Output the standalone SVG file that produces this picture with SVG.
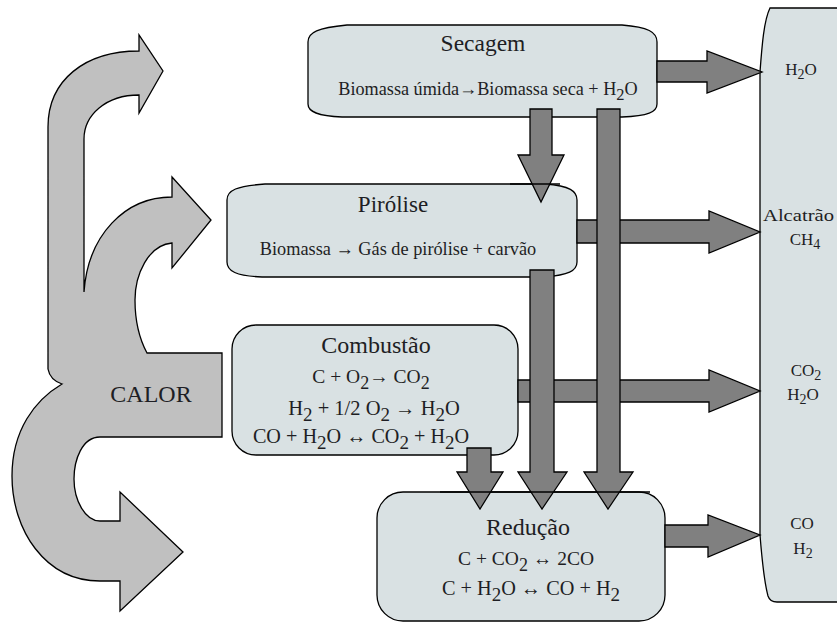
<svg xmlns="http://www.w3.org/2000/svg" width="837" height="624" viewBox="0 0 837 624">
<style>
.box{fill:#d9e1e3;stroke:#000;stroke-width:1.3}
.edge{fill:none;stroke:#000;stroke-width:1.3}
.arr{fill:#808080;stroke:#000;stroke-width:1.3}
.heat{fill:#c0c0c0;stroke:#000;stroke-width:1.3}
text{font-family:'Liberation Serif','Times New Roman',serif;fill:#1e1e24}
.m{text-anchor:middle}
</style>
<rect width="837" height="624" fill="#fff"/>

<g id="calor">
<path class="heat" d="M163,71 L139,113 L139,95 C106,95 84,115 84,139 L84,292 C88,235 125,197 172,197 L172,177 L211,220 L172,268 L172,243 C148,245 135,275 135,300 C135,325 140,340 147,353 L222,353 L222,437 L100,437 C82,437 74,460 74,479 C74,500 85,521 100,521 L120,521 L120,492 L183,552 L120,611 L120,581 L100,581 C45,581 12,530 12,476 C12,430 35,400 62,384 Q50,380 48,369 L48,127 C48,80 85,51 139,51 L139,35 Z"/>
<text class="m" x="151" y="402" font-size="24">CALOR</text>
</g>

<g id="produtos" font-size="17">
<path class="box" d="M770,8 C764,20 762,45 760,72 L760,535 C762,560 765,585 768,596 Q770,602 777,602 L842,602 L842,8 Z"/>
<text class="m" x="801" y="75">H<tspan font-size="14" dy="4">2</tspan><tspan dy="-4">O</tspan></text>
<text x="763" y="221" font-size="17" textLength="71" lengthAdjust="spacingAndGlyphs">Alcatrão</text>
<text class="m" x="805" y="245">CH<tspan font-size="14" dy="4">4</tspan></text>
<text class="m" x="806" y="376">CO<tspan font-size="14" dy="4">2</tspan></text>
<text class="m" x="803" y="400">H<tspan font-size="14" dy="4">2</tspan><tspan dy="-4">O</tspan></text>
<text class="m" x="802" y="529">CO</text>
<text class="m" x="803" y="554">H<tspan font-size="14" dy="4">2</tspan></text>
</g>

<g id="secagem">
<path class="box" d="M308,42 C308,32 318,28 347,25 L622,25 C648,27 657,32 657,42 L657,104 C657,112 648,116 622,117 L342,117 C318,116 308,112 308,104 Z"/>
<text class="m" font-size="23.5" x="483" y="51">Secagem</text>
<text class="m" font-size="18.2" x="488" y="95">Biomassa úmida→Biomassa seca + H<tspan font-size="16.5" dy="5">2</tspan><tspan dy="-5">O</tspan></text>
</g>

<g id="pirolise">
<path class="box" d="M227,200 C227,190 237,186 265,184 L545,184 C570,186 577,191 577,200 L577,262 C577,271 568,275 545,277 L262,277 C236,276 227,271 227,262 Z"/>
<text class="m" font-size="23" x="393" y="212">Pirólise</text>
<text class="m" font-size="18.3" x="398" y="255">Biomassa  →  Gás de pirólise + carvão</text>
</g>

<g id="combustao">
<rect class="box" x="232" y="325" width="286" height="130" rx="24"/>
<text class="m" font-size="24" x="376" y="353">Combustão</text>
<text class="m" font-size="19.5" x="371" y="383">C + O<tspan font-size="18" dy="6">2</tspan><tspan dy="-6">→ CO</tspan><tspan font-size="18" dy="6">2</tspan></text>
<text class="m" font-size="20.5" x="374" y="415">H<tspan font-size="19" dy="6">2</tspan><tspan dy="-6"> + 1/2 O</tspan><tspan font-size="19" dy="6">2</tspan><tspan dy="-6">  →   H</tspan><tspan font-size="19" dy="6">2</tspan><tspan dy="-6">O</tspan></text>
<text class="m" font-size="20.2" x="361" y="443">CO + H<tspan font-size="19" dy="6">2</tspan><tspan dy="-6">O ↔ CO</tspan><tspan font-size="19" dy="6">2</tspan><tspan dy="-6"> + H</tspan><tspan font-size="19" dy="6">2</tspan><tspan dy="-6">O</tspan></text>
</g>

<g id="reducao">
<rect class="box" x="377" y="492" width="288" height="129" rx="26"/>
<text class="m" font-size="24" x="528" y="535">Redução</text>
<text class="m" font-size="19.5" x="526" y="565">C + CO<tspan font-size="18" dy="6">2</tspan><tspan dy="-6"> ↔ 2CO</tspan></text>
<text class="m" font-size="20.3" x="531" y="595">C + H<tspan font-size="19" dy="6">2</tspan><tspan dy="-6">O ↔ CO + H</tspan><tspan font-size="19" dy="6">2</tspan></text>
</g>

<g id="connectors">
<polygon class="arr" points="657,61 707,61 707,51 762,72 707,93 707,82 657,82"/>
<polygon class="arr" points="577,220 709,220 709,211 760,232 709,253 709,243 577,243"/>
<polygon class="arr" points="518,380 709,380 709,370 760,391 709,412 709,402 518,402"/>
<polygon class="arr" points="665,525 708,525 708,515 760,535 708,557 708,547 665,547"/>
<polygon class="arr" points="530,109 552,109 552,155 564,155 541,202 518,155 530,155"/>
<polygon class="arr" points="530,270 554,270 554,472 567,472 542,509 518,472 530,472"/>
<polygon class="arr" points="597,109 620,109 620,472 633,472 608,509 584,472 597,472"/>
<polygon class="arr" points="467,448 491,448 491,472 503,472 480,509 457,472 467,472"/>
</g>

<g id="box-edges">
<path class="edge" d="M510,184 L560,184"/>
<path class="edge" d="M440,492 L650,492"/>
</g>
</svg>
